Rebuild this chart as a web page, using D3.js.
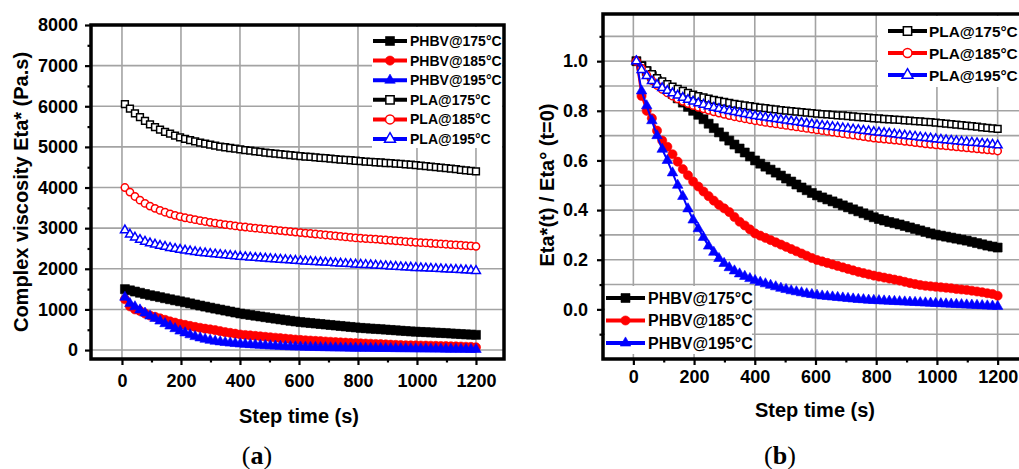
<!DOCTYPE html>
<html><head><meta charset="utf-8">
<script src="https://cdn.jsdelivr.net/npm/d3@7"></script>
<style>
body{margin:0;background:#fff}
svg{display:block}
text{font-family:"Liberation Sans",Arial,sans-serif;font-weight:bold;fill:#000}
</style>
</head><body>
<svg id="chart" width="1019" height="469"></svg>
<script>
// ---------- DATA ----------
const stepTime = [
  10, 27, 44, 61, 78, 95, 112, 129, 146, 163,
  180, 197, 214, 231, 248, 265, 282, 299, 316, 333,
  350, 367, 384, 401, 418, 435, 452, 469, 486, 503,
  520, 537, 554, 571, 588, 605, 622, 639, 656, 673,
  690, 707, 724, 741, 758, 775, 792, 809, 826, 843,
  860, 877, 894, 911, 928, 945, 962, 979, 996, 1013,
  1030, 1047, 1064, 1081, 1098, 1115, 1132, 1149, 1166, 1183,
  1200];

// Panel (a): complex viscosity Eta* (Pa.s)
const phbv175Visc = [
  1500, 1470, 1440, 1410, 1380, 1350, 1328, 1302, 1275, 1250,
  1224, 1200, 1176, 1149, 1122, 1095, 1070, 1044, 1020, 996,
  972, 948, 924, 900, 881, 863, 845, 827, 809, 791,
  773, 755, 737, 720, 704, 689, 677, 665, 653, 641,
  629, 617, 605, 593, 581, 569, 557, 546, 537, 528,
  521, 513, 504, 495, 486, 477, 468, 459, 452, 446,
  440, 434, 428, 422, 416, 408, 401, 393, 386, 380,
  374];
const phbv185Visc = [
  1250, 1075, 1000, 963, 900, 850, 819, 781, 744, 706,
  675, 644, 619, 594, 570, 548, 526, 509, 490, 465,
  441, 423, 403, 383, 371, 360, 349, 338, 326, 315,
  304, 293, 281, 270, 259, 249, 241, 234, 226, 219,
  211, 204, 196, 189, 183, 176, 170, 165, 160, 155,
  150, 145, 139, 133, 128, 123, 119, 116, 114, 111,
  109, 106, 103, 100, 98, 94, 90, 86, 81, 78,
  69];
const phbv195Visc = [
  1300, 1144, 1066, 988, 910, 839, 780, 715, 650, 592,
  527, 468, 423, 377, 332, 299, 267, 241, 218, 202,
  186, 173, 161, 151, 142, 134, 126, 118, 111, 104,
  98, 92, 87, 82, 78, 74, 70, 68, 65, 62,
  60, 57, 55, 52, 51, 48, 47, 46, 44, 43,
  42, 40, 39, 38, 36, 35, 34, 33, 31, 30,
  29, 27, 26, 25, 23, 22, 21, 20, 18, 17,
  16];
const pla175Visc = [
  6050, 5941, 5826, 5735, 5639, 5554, 5487, 5427, 5372, 5324,
  5276, 5233, 5197, 5167, 5136, 5106, 5082, 5058, 5034, 5009,
  4991, 4973, 4955, 4937, 4919, 4907, 4888, 4876, 4858, 4846,
  4834, 4822, 4810, 4798, 4786, 4773, 4761, 4755, 4743, 4731,
  4725, 4713, 4701, 4689, 4683, 4671, 4659, 4652, 4640, 4634,
  4622, 4616, 4604, 4598, 4586, 4580, 4568, 4562, 4550, 4538,
  4525, 4513, 4501, 4489, 4477, 4465, 4453, 4435, 4423, 4410,
  4398];
const pla185Visc = [
  4000, 3888, 3780, 3688, 3608, 3544, 3488, 3436, 3392, 3352,
  3316, 3284, 3256, 3232, 3208, 3184, 3164, 3144, 3124, 3104,
  3088, 3072, 3056, 3040, 3028, 3012, 3000, 2988, 2976, 2964,
  2952, 2940, 2928, 2916, 2904, 2892, 2880, 2868, 2856, 2844,
  2832, 2820, 2808, 2796, 2784, 2772, 2760, 2752, 2744, 2736,
  2728, 2720, 2708, 2700, 2688, 2680, 2668, 2660, 2652, 2644,
  2636, 2628, 2620, 2612, 2604, 2596, 2588, 2580, 2572, 2564,
  2552];
const pla195Visc = [
  2950, 2847, 2773, 2714, 2670, 2631, 2599, 2569, 2543, 2516,
  2493, 2472, 2451, 2434, 2416, 2398, 2384, 2369, 2357, 2345,
  2333, 2322, 2310, 2298, 2289, 2280, 2272, 2263, 2254, 2245,
  2236, 2227, 2218, 2210, 2201, 2192, 2183, 2177, 2168, 2162,
  2154, 2148, 2139, 2133, 2124, 2118, 2109, 2103, 2097, 2092,
  2083, 2074, 2068, 2059, 2053, 2044, 2038, 2033, 2024, 2018,
  2012, 2006, 2000, 1994, 1988, 1982, 1977, 1971, 1965, 1959,
  1950];

// Panel (b): normalized Eta*(t)/Eta*(t=0)
const phbv175Norm = [
  1.000, 0.980, 0.960, 0.940, 0.920, 0.900, 0.885, 0.868, 0.850, 0.833,
  0.816, 0.800, 0.784, 0.766, 0.748, 0.730, 0.713, 0.696, 0.680, 0.664,
  0.648, 0.632, 0.616, 0.600, 0.587, 0.575, 0.563, 0.551, 0.539, 0.527,
  0.515, 0.503, 0.491, 0.480, 0.469, 0.459, 0.451, 0.443, 0.435, 0.427,
  0.419, 0.411, 0.403, 0.395, 0.387, 0.379, 0.371, 0.364, 0.358, 0.352,
  0.347, 0.342, 0.336, 0.330, 0.324, 0.318, 0.312, 0.306, 0.301, 0.297,
  0.293, 0.289, 0.285, 0.281, 0.277, 0.272, 0.267, 0.262, 0.257, 0.253,
  0.249];
const phbv185Norm = [
  1.000, 0.860, 0.800, 0.770, 0.720, 0.680, 0.655, 0.625, 0.595, 0.565,
  0.540, 0.515, 0.495, 0.475, 0.456, 0.438, 0.421, 0.407, 0.392, 0.372,
  0.353, 0.338, 0.322, 0.306, 0.297, 0.288, 0.279, 0.270, 0.261, 0.252,
  0.243, 0.234, 0.225, 0.216, 0.207, 0.199, 0.193, 0.187, 0.181, 0.175,
  0.169, 0.163, 0.157, 0.151, 0.146, 0.141, 0.136, 0.132, 0.128, 0.124,
  0.120, 0.116, 0.111, 0.106, 0.102, 0.098, 0.095, 0.093, 0.091, 0.089,
  0.087, 0.085, 0.082, 0.080, 0.078, 0.075, 0.072, 0.069, 0.065, 0.062,
  0.055];
const phbv195Norm = [
  1.000, 0.880, 0.820, 0.760, 0.700, 0.645, 0.600, 0.550, 0.500, 0.455,
  0.405, 0.360, 0.325, 0.290, 0.255, 0.230, 0.205, 0.185, 0.168, 0.155,
  0.143, 0.133, 0.124, 0.116, 0.109, 0.103, 0.097, 0.091, 0.085, 0.080,
  0.075, 0.071, 0.067, 0.063, 0.060, 0.057, 0.054, 0.052, 0.050, 0.048,
  0.046, 0.044, 0.042, 0.040, 0.039, 0.037, 0.036, 0.035, 0.034, 0.033,
  0.032, 0.031, 0.030, 0.029, 0.028, 0.027, 0.026, 0.025, 0.024, 0.023,
  0.022, 0.021, 0.020, 0.019, 0.018, 0.017, 0.016, 0.015, 0.014, 0.013,
  0.012];
const pla175Norm = [
  1.000, 0.982, 0.963, 0.948, 0.932, 0.918, 0.907, 0.897, 0.888, 0.880,
  0.872, 0.865, 0.859, 0.854, 0.849, 0.844, 0.840, 0.836, 0.832, 0.828,
  0.825, 0.822, 0.819, 0.816, 0.813, 0.811, 0.808, 0.806, 0.803, 0.801,
  0.799, 0.797, 0.795, 0.793, 0.791, 0.789, 0.787, 0.786, 0.784, 0.782,
  0.781, 0.779, 0.777, 0.775, 0.774, 0.772, 0.770, 0.769, 0.767, 0.766,
  0.764, 0.763, 0.761, 0.760, 0.758, 0.757, 0.755, 0.754, 0.752, 0.750,
  0.748, 0.746, 0.744, 0.742, 0.740, 0.738, 0.736, 0.733, 0.731, 0.729,
  0.727];
const pla185Norm = [
  1.000, 0.972, 0.945, 0.922, 0.902, 0.886, 0.872, 0.859, 0.848, 0.838,
  0.829, 0.821, 0.814, 0.808, 0.802, 0.796, 0.791, 0.786, 0.781, 0.776,
  0.772, 0.768, 0.764, 0.760, 0.757, 0.753, 0.750, 0.747, 0.744, 0.741,
  0.738, 0.735, 0.732, 0.729, 0.726, 0.723, 0.720, 0.717, 0.714, 0.711,
  0.708, 0.705, 0.702, 0.699, 0.696, 0.693, 0.690, 0.688, 0.686, 0.684,
  0.682, 0.680, 0.677, 0.675, 0.672, 0.670, 0.667, 0.665, 0.663, 0.661,
  0.659, 0.657, 0.655, 0.653, 0.651, 0.649, 0.647, 0.645, 0.643, 0.641,
  0.638];
const pla195Norm = [
  1.000, 0.965, 0.940, 0.920, 0.905, 0.892, 0.881, 0.871, 0.862, 0.853,
  0.845, 0.838, 0.831, 0.825, 0.819, 0.813, 0.808, 0.803, 0.799, 0.795,
  0.791, 0.787, 0.783, 0.779, 0.776, 0.773, 0.770, 0.767, 0.764, 0.761,
  0.758, 0.755, 0.752, 0.749, 0.746, 0.743, 0.740, 0.738, 0.735, 0.733,
  0.730, 0.728, 0.725, 0.723, 0.720, 0.718, 0.715, 0.713, 0.711, 0.709,
  0.706, 0.703, 0.701, 0.698, 0.696, 0.693, 0.691, 0.689, 0.686, 0.684,
  0.682, 0.680, 0.678, 0.676, 0.674, 0.672, 0.670, 0.668, 0.666, 0.664,
  0.661];

const seriesNames = ["PHBV@175°C", "PHBV@185°C", "PHBV@195°C", "PLA@175°C", "PLA@185°C", "PLA@195°C"];
const xTickValues = [0, 200, 400, 600, 800, 1000, 1200];
const xMinorTicks = [100, 300, 500, 700, 900, 1100];
const yTicksA = [0, 1000, 2000, 3000, 4000, 5000, 6000, 7000, 8000];
const yMinorA = [500, 1500, 2500, 3500, 4500, 5500, 6500, 7500];
const yTicksB = [0.0, 0.2, 0.4, 0.6, 0.8, 1.0];
const yMinorB = [-0.1, 0.1, 0.3, 0.5, 0.7, 0.9, 1.1];
const yGridB = [-0.1, 0.0, 0.1, 0.2, 0.3, 0.4, 0.5, 0.6, 0.7, 0.8, 0.9, 1.0, 1.1];

// ---------- STYLE ----------
const styles = [
  {color: "#000000", shape: d3.symbolSquare, filled: true},
  {color: "#ff0000", shape: d3.symbolCircle, filled: true},
  {color: "#0000ff", shape: d3.symbolTriangle, filled: true},
  {color: "#000000", shape: d3.symbolSquare, filled: false},
  {color: "#ff0000", shape: d3.symbolCircle, filled: false},
  {color: "#0000ff", shape: d3.symbolTriangle, filled: false}
];
function areaFor(shape, filled) {
  if (filled) return shape === d3.symbolSquare ? 81 : shape === d3.symbolCircle ? 66 : 48;
  return shape === d3.symbolSquare ? 46 : shape === d3.symbolCircle ? 42 : 34;
}

const svg = d3.select("#chart");
svg.append("rect").attr("width", 1019).attr("height", 469).attr("fill", "#fff");

function drawPanel(cfg) {
  const g = svg.append("g");
  const x = cfg.x, y = cfg.y;
  const [x0, x1] = x.range();
  const [yb, yt] = y.range();

  // grid
  g.append("g").selectAll("line").data(xTickValues).join("line")
    .attr("x1", d => x(d)).attr("x2", d => x(d)).attr("y1", yb).attr("y2", yt)
    .attr("stroke", "#a3a3a3").attr("stroke-width", 1.6);
  g.append("g").selectAll("line").data(cfg.yGrid).join("line")
    .attr("x1", x0).attr("x2", x1).attr("y1", d => y(d)).attr("y2", d => y(d))
    .attr("stroke", "#a3a3a3").attr("stroke-width", 1.6);

  // series
  const line = d3.line().x((d, i) => x(stepTime[i])).y(d => y(d));
  cfg.series.forEach((vals, k) => {
    const st = styles[k];
    g.append("path").datum(vals).attr("d", line)
      .attr("fill", "none").attr("stroke", st.color).attr("stroke-width", 2);
    const sym = d3.symbol().type(st.shape).size(areaFor(st.shape, st.filled));
    g.append("g").selectAll("path").data(vals).join("path")
      .attr("transform", (d, i) => `translate(${x(stepTime[i])},${y(d)})`)
      .attr("d", sym)
      .attr("fill", st.filled ? st.color : "#fff")
      .attr("stroke", st.color)
      .attr("stroke-width", st.filled ? 0.6 : 1.5);
  });

  // legends
  cfg.legends.forEach(L => {
    g.append("rect").attr("x", L.box[0]).attr("y", L.box[1]).attr("width", L.box[2]).attr("height", L.box[3]).attr("fill", "#fff");
    L.items.forEach((k, j) => {
      const st = styles[k];
      const cy = L.y0 + j * L.dy;
      g.append("line").attr("x1", L.lx0).attr("x2", L.lx1).attr("y1", cy).attr("y2", cy)
        .attr("stroke", st.color).attr("stroke-width", 4);
      g.append("path").attr("transform", `translate(${(L.lx0 + L.lx1) / 2},${cy})`)
        .attr("d", d3.symbol().type(st.shape).size(st.filled ? areaFor(st.shape, true) : areaFor(st.shape, false) * 1.5)())
        .attr("fill", st.filled ? st.color : "#fff").attr("stroke", st.color)
        .attr("stroke-width", st.filled ? 0.6 : 1.5);
      g.append("text").attr("x", L.tx).attr("y", cy + L.fs * 0.36)
        .attr("font-size", L.fs).text(seriesNames[k]);
    });
  });

  // frame
  g.append("rect").attr("x", x0).attr("y", yt).attr("width", x1 - x0).attr("height", yb - yt)
    .attr("fill", "none").attr("stroke", "#000").attr("stroke-width", 3.5);

  // axes
  const ax = g.append("g").attr("transform", `translate(0,${yb})`)
    .call(d3.axisBottom(x).tickValues(xTickValues).tickSize(6).tickPadding(cfg.xPad).tickFormat(d3.format("d")));
  const axm = g.append("g").attr("transform", `translate(0,${yb})`)
    .call(d3.axisBottom(x).tickValues(xMinorTicks).tickSize(3.5).tickFormat(""));
  const ay = g.append("g").attr("transform", `translate(${x0},0)`)
    .call(d3.axisLeft(y).tickValues(cfg.yTicks).tickSize(6).tickPadding(cfg.yPad).tickFormat(cfg.yFmt));
  const aym = g.append("g").attr("transform", `translate(${x0},0)`)
    .call(d3.axisLeft(y).tickValues(cfg.yMinor).tickSize(3.5).tickFormat(""));
  [ax, axm, ay, aym].forEach(a => {
    a.select(".domain").remove();
    a.selectAll(".tick line").attr("stroke", "#000").attr("stroke-width", 2.2);
    a.selectAll("text").attr("font-size", 18).attr("font-family", "Liberation Sans, Arial, sans-serif")
      .attr("font-weight", "bold").attr("fill", "#000");
  });

  // titles
  g.append("text").attr("x", cfg.xTitle[0]).attr("y", cfg.xTitle[1]).attr("text-anchor", "middle")
    .attr("font-size", 20).text("Step time (s)");
  g.append("text").attr("transform", `translate(${cfg.yTitle[0]},${cfg.yTitle[1]}) rotate(-90)`)
    .attr("text-anchor", "middle").attr("font-size", 20).text(cfg.yTitleText);
  const lab = g.append("text").attr("x", cfg.letter[0]).attr("y", cfg.letter[1]).attr("text-anchor", "middle")
    .style("font-family", "'Liberation Serif', 'Times New Roman', serif").style("font-weight", "normal").attr("font-size", 26);
  lab.append("tspan").text("(");
  lab.append("tspan").style("font-weight", "bold").text(cfg.letterText);
  lab.append("tspan").text(")");
}

drawPanel({
  x: d3.scaleLinear().domain([-105, 1295]).range([91, 504]),
  y: d3.scaleLinear().domain([-220, 8000]).range([359, 25]),
  yGrid: yTicksA, yTicks: yTicksA, yMinor: yMinorA, yFmt: d3.format("d"),
  xPad: 9, yPad: 7,
  series: [phbv175Visc, phbv185Visc, phbv195Visc, pla175Visc, pla185Visc, pla195Visc],
  legends: [{box: [372, 27, 130, 121], items: [0, 1, 2, 3, 4, 5], y0: 41, dy: 19.6, lx0: 373, lx1: 407, tx: 410, fs: 14}],
  xTitle: [299, 423], yTitle: [28, 192], yTitleText: "Complex viscosity Eta* (Pa.s)",
  letter: [257, 464], letterText: "a"
});

drawPanel({
  x: d3.scaleLinear().domain([-100, 1300]).range([603, 1028]),
  y: d3.scaleLinear().domain([-0.2, 1.19]).range([359, 14]),
  yGrid: yGridB, yTicks: yTicksB, yMinor: yMinorB, yFmt: d3.format(".1f"),
  xPad: 5, yPad: 9,
  series: [phbv175Norm, phbv185Norm, phbv195Norm, pla175Norm, pla185Norm, pla195Norm],
  legends: [
    {box: [878, 16, 150, 71], items: [3, 4, 5], y0: 31, dy: 22, lx0: 888, lx1: 927, tx: 929, fs: 15.4},
    {box: [605, 286, 147, 68], items: [0, 1, 2], y0: 298, dy: 22.5, lx0: 606, lx1: 645, tx: 648, fs: 16}
  ],
  xTitle: [815, 417], yTitle: [554, 185], yTitleText: "Eta*(t) / Eta° (t=0)",
  letter: [780, 464], letterText: "b"
});
</script>
</body></html>
